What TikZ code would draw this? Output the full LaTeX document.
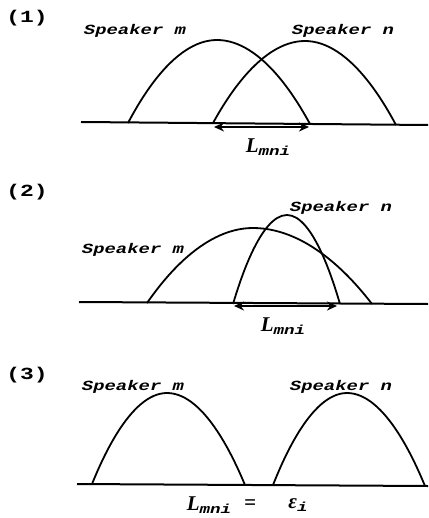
\documentclass[tikz,border=0pt]{standalone}
\usepackage{fontspec}
\setmainfont{Liberation Serif}
\newfontfamily\spkfont[FakeStretch=1.35]{Liberation Mono}
\usetikzlibrary{arrows.meta,positioning}
\newcommand{\lsub}[2]{#1\raisebox{-3.5pt}{\spkfont\fontsize{13}{13}\selectfont\bfseries\itshape #2}}

\begin{document}
\begin{tikzpicture}[x=1pt,y=-1pt,
      spk/.style={font=\spkfont\fontsize{14}{14}\selectfont\bfseries\itshape,inner sep=0pt},
      tag/.style={font=\spkfont\fontsize{17}{17}\selectfont\bfseries,inner sep=0pt},
      lbl/.style={font=\fontsize{21}{21}\selectfont\bfseries\itshape,inner sep=0pt},
      base/.style={line width=2pt},
      arch/.style={line width=1.8pt},
      dist/.style={{Stealth[length=10pt,width=9pt]}-{Stealth[length=10pt,width=9pt]},line width=2.4pt}]
    \useasboundingbox (0,0) rectangle (428,518);
    % (1) overlapping
    \node[tag] (t1) at (27,18) {(1)};
    \node[spk] (m1) at (135,31) {Speaker m};
    \node[spk] (n1) at (343,31) {Speaker n};
    \draw[base] (81,122) -- (428,125);
    \draw[arch] (128,123) parabola bend (217,40) (310,124);
    \draw[arch] (213,123) parabola bend (305,41) (396,125);
    \coordinate (a1l) at (214,127); \coordinate (a1r) at (309,127);
    \draw[dist] (a1l) -- (a1r);
    \node[lbl] (l1) at (268,147) {\lsub{L}{mni}};
    % (2) one inside the other
    \node[tag] (t2) at (27,192) {(2)};
    \node[spk] (n2) at (341,208) {Speaker n};
    \node[spk] (m2) at (133,250) {Speaker m};
    \draw[base] (79,302) -- (428,304);
    \draw[arch] (147,303) parabola bend (253,228) (372,304);
    \draw[arch] (233,304) parabola bend (287,215) (340,304);
    \coordinate (a2l) at (234,306); \coordinate (a2r) at (337,306);
    \draw[dist] (a2l) -- (a2r);
    \node[lbl] (l2) at (283,326) {\lsub{L}{mni}};
    % (3) apart
    \node[tag] (t3) at (27,375) {(3)};
    \node[spk] (m3) at (133,387) {Speaker m};
    \node[spk] (n3) at (341,387) {Speaker n};
    \draw[base] (77,484) -- (428,486);
    \draw[arch] (92,484) parabola bend (167,393) (245,485);
    \draw[arch] (273,485) parabola bend (347,393) (425,486);
    \node[lbl] (l3) at (209,505) {\lsub{L}{mni}};
    \node[lbl] (eq) at (250,505) {=};
    \node[lbl] (e3) at (298,505) {\lsub{ε}{i}};
  \end{tikzpicture}
\end{document}
